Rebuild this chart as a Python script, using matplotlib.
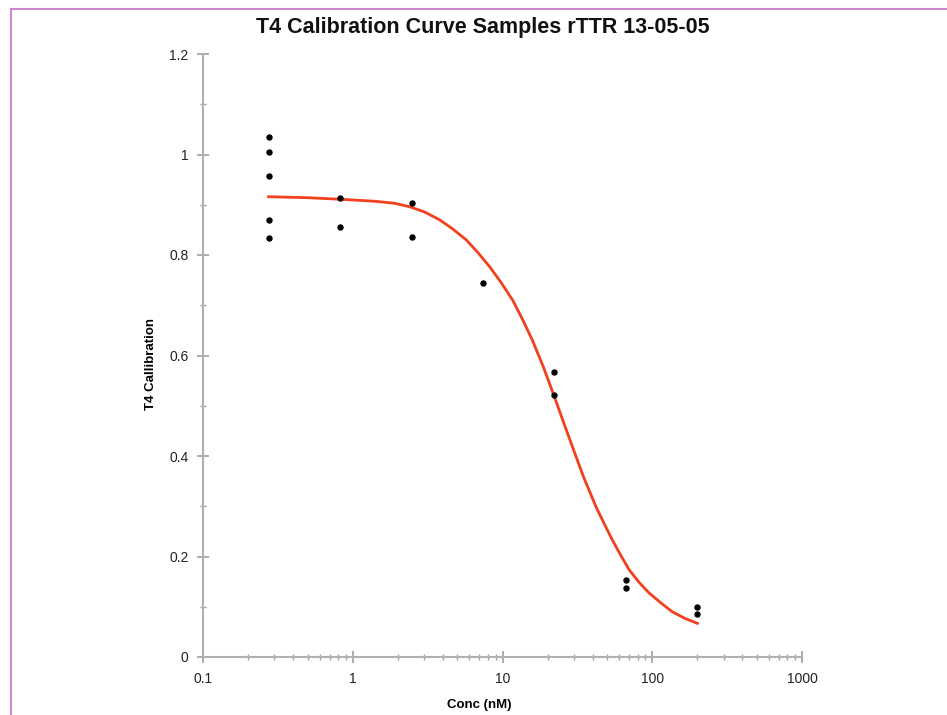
import numpy as np
import matplotlib
matplotlib.use('Agg')
import matplotlib.pyplot as plt
from matplotlib.ticker import FixedLocator, NullFormatter, LogLocator
from matplotlib.lines import Line2D

plt.rcParams['font.family'] = ['Liberation Sans', 'DejaVu Sans']

TITLE = 'T4 Calibration Curve Samples rTTR 13-05-05'

# measured samples (conc in nM, calibration response)
conc = [0.274, 0.274, 0.274, 0.274, 0.274,
        0.823, 0.823,
        2.47, 2.47,
        7.41,
        22.2, 22.2,
        66.7, 66.7,
        200, 200]
response = [1.035, 1.005, 0.957, 0.870, 0.834,
            0.913, 0.856,
            0.903, 0.836,
            0.744,
            0.567, 0.521,
            0.153, 0.137,
            0.0995, 0.0856]

# fitted curve
fit_conc = [0.274, 0.5, 0.819, 1.4, 1.9, 2.40, 3.0, 3.80, 4.6, 5.73, 6.8,
            8.19, 9.8, 11.7, 13.6, 15.8, 18.7, 22.2, 25.5, 29.3, 34.8,
            42.1, 48.0, 54.1, 62.0, 70.3, 82.0, 95.5, 115, 136, 165, 200]
fit_resp = [0.916, 0.914, 0.911, 0.907, 0.903, 0.896, 0.886, 0.870, 0.853,
            0.830, 0.806, 0.777, 0.745, 0.710, 0.672, 0.631, 0.578, 0.518,
            0.468, 0.4185, 0.358, 0.299, 0.264, 0.233, 0.201, 0.173, 0.148,
            0.127, 0.107, 0.090, 0.077, 0.067]

y_ticks = [0, 0.2, 0.4, 0.6, 0.8, 1.0, 1.2]
y_labels = ['0', '0.2', '0.4', '0.6', '0.8', '1', '1.2']
x_ticks = [0.1, 1, 10, 100, 1000]
x_labels = ['0.1', '1', '10', '100', '1000']

# %%
fig = plt.figure(figsize=(9.47, 7.15), dpi=100)
ax = fig.add_axes([203 / 947, 1 - 657 / 715, 599 / 947, 603 / 715])

ax.plot(fit_conc, fit_resp, color='#f2401e', linewidth=2, zorder=2)
ax.plot(conc, response, 'o', color='black', markersize=3.6, zorder=3)

ax.set_xscale('log')
ax.set_xlim(0.1, 1000)
ax.set_ylim(0, 1.2)

ax.xaxis.set_major_locator(FixedLocator(x_ticks))
ax.set_xticklabels(x_labels)
ax.xaxis.set_minor_locator(LogLocator(base=10, subs=np.arange(2, 10)))
ax.xaxis.set_minor_formatter(NullFormatter())
ax.set_yticks(y_ticks)
ax.set_yticklabels(y_labels)
ax.set_yticks(np.arange(0.1, 1.2, 0.2), minor=True)

for side in ['top', 'right']:
    ax.spines[side].set_visible(False)
for side in ['left', 'bottom']:
    ax.spines[side].set_color('#b0b0b0')
    ax.spines[side].set_linewidth(1.5)

ax.tick_params(which='major', direction='inout', length=9, width=1.2,
               color='#a0a0a0', labelsize=10, labelcolor='#222222', pad=6)
ax.tick_params(which='minor', direction='inout', length=4, width=1,
               color='#a0a0a0')

ax.set_xlabel('Conc (nM)', fontsize=9.5, fontweight='bold', labelpad=10,
              x=0.461)
ax.set_ylabel('T4 Callibration', fontsize=9.5, fontweight='bold', labelpad=9,
              y=0.486)

fig.text(483 / 947, 1 - 27 / 715, TITLE, ha='center', va='center',
         fontsize=15.5, fontweight='bold', color='#111111')

# pink frame (top and left edges only are in view)
fig.add_artist(Line2D([10.5 / 947, 1], [1 - 8.5 / 715, 1 - 8.5 / 715],
                      transform=fig.transFigure, color='#cc88cc', linewidth=1.5))
fig.add_artist(Line2D([10.5 / 947, 10.5 / 947], [0, 1 - 8.5 / 715],
                      transform=fig.transFigure, color='#cc88cc', linewidth=1.5))

fig.savefig('out.png', dpi=100)
